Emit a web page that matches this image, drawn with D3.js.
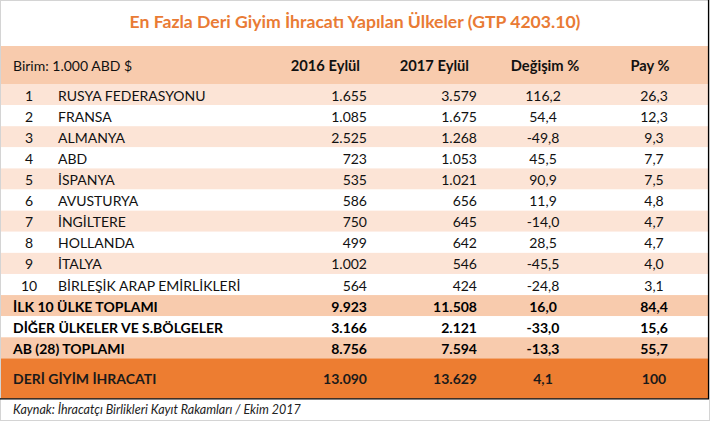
<!DOCTYPE html>
<html><head><meta charset="utf-8">
<script src="https://cdn.jsdelivr.net/npm/d3@7"></script>
<style>body{margin:0;background:#fff}svg{display:block}text{font-family:Lato,"Open Sans",sans-serif}</style>
</head><body>
<script>
const title = "En Fazla Deri Giyim İhracatı Yapılan Ülkeler (GTP 4203.10)";
const unitLabel = "Birim: 1.000 ABD $";
const headers = ["2016 Eylül", "2017 Eylül", "Değişim %", "Pay %"];
const ranks = [1,2,3,4,5,6,7,8,9,10];
const countries = ["RUSYA FEDERASYONU","FRANSA","ALMANYA","ABD","İSPANYA","AVUSTURYA","İNGİLTERE","HOLLANDA","İTALYA","BİRLEŞİK ARAP EMİRLİKLERİ"];
const v2016 = ["1.655","1.085","2.525","723","535","586","750","499","1.002","564"];
const v2017 = ["3.579","1.675","1.268","1.053","1.021","656","645","642","546","424"];
const change = ["116,2","54,4","-49,8","45,5","90,9","11,9","-14,0","28,5","-45,5","-24,8"];
const share = ["26,3","12,3","9,3","7,7","7,5","4,8","4,7","4,7","4,0","3,1"];
const sumLabels = ["İLK 10 ÜLKE TOPLAMI","DİĞER ÜLKELER VE S.BÖLGELER","AB (28) TOPLAMI","DERİ GİYİM İHRACATI"];
const sum2016 = ["9.923","3.166","8.756","13.090"];
const sum2017 = ["11.508","2.121","7.594","13.629"];
const sumChange = ["16,0","-33,0","-13,3","4,1"];
const sumShare = ["84,4","15,6","55,7","100"];
const footnote = "Kaynak: İhracatçı Birlikleri Kayıt Rakamları / Ekim 2017";

const W = 710, H = 421;
const svg = d3.select("body").append("svg").attr("width", W).attr("height", H);

const rows = [];
rows.push({type:"header", h:1.8});
ranks.forEach((r,i)=>rows.push({type:"data", i, h:1}));
sumLabels.forEach((s,i)=>rows.push({type:i===3?"total":"sum", i, h:i===3?1.9:1}));
let acc = 0; rows.forEach(r=>{r.y0=acc; acc+=r.h; r.y1=acc;});
const y = d3.scaleLinear().domain([0, acc]).range([46, 398.5]);

const colors = {header:"#F8CBAD", odd:"#FCE4D6", even:"#FFFFFF", sum:"#F8CBAD", total:"#ED7D31"};
function fill(r){
  if (r.type==="header") return colors.header;
  if (r.type==="data") return r.i%2===0 ? colors.odd : colors.even;
  if (r.type==="sum") return r.i===1 ? colors.even : colors.sum;
  return colors.total;
}
svg.selectAll("rect.row").data(rows).join("rect").attr("class","row")
  .attr("x",1).attr("width",707)
  .attr("y",d=>y(d.y0)).attr("height",d=>y(d.y1)-y(d.y0))
  .attr("fill",fill);

svg.append("rect").attr("x",0.5).attr("y",0.5).attr("width",W-1).attr("height",H-1)
  .attr("fill","none").attr("stroke","#d4d4d4");
svg.append("line").attr("x1",708.5).attr("x2",708.5).attr("y1",0).attr("y2",399)
  .attr("stroke","#000").attr("stroke-width",1.2);
svg.append("line").attr("x1",0).attr("x2",709).attr("y1",398.8).attr("y2",398.8)
  .attr("stroke","#000").attr("stroke-width",1.2);

svg.append("text").attr("x",355).attr("y",28).attr("text-anchor","middle")
  .attr("font-size",17.6).attr("font-weight","bold").attr("fill","#E97B35").text(title);

const mid = r => (y(r.y0)+y(r.y1))/2 + 6;
const hdr = rows[0];
svg.append("text").attr("x",13).attr("y",mid(hdr)).attr("font-size",14).attr("fill","#111").text(unitLabel);
const hx = [{x:360,a:"end"},{x:469,a:"end"},{x:545,a:"middle"},{x:650,a:"middle"}];
headers.forEach((h,k)=>svg.append("text").attr("x",hx[k].x).attr("y",mid(hdr))
  .attr("text-anchor",hx[k].a).attr("font-size",14.7).attr("font-weight","bold").attr("fill","#111").text(h));

const cols = [
  {x:29, a:"middle", get:i=>ranks[i]},
  {x:58, a:"start", get:i=>countries[i]},
  {x:367, a:"end", get:i=>v2016[i]},
  {x:477, a:"end", get:i=>v2017[i]},
  {x:543, a:"middle", get:i=>change[i]},
  {x:654, a:"middle", get:i=>share[i]}
];
const dataRows = rows.filter(r=>r.type==="data");
cols.forEach(c=>{
  svg.selectAll(null).data(dataRows).join("text")
    .attr("x",c.x).attr("y",mid).attr("text-anchor",c.a)
    .attr("font-size",14).attr("fill","#111").text(d=>c.get(d.i));
});
const sumRows = rows.filter(r=>r.type==="sum"||r.type==="total");
const scols = [
  {x:13, a:"start", get:i=>sumLabels[i]},
  {x:367, a:"end", get:i=>sum2016[i]},
  {x:477, a:"end", get:i=>sum2017[i]},
  {x:543, a:"middle", get:i=>sumChange[i]},
  {x:654, a:"middle", get:i=>sumShare[i]}
];
scols.forEach(c=>{
  svg.selectAll(null).data(sumRows).join("text")
    .attr("x",c.x).attr("y",mid).attr("text-anchor",c.a)
    .attr("font-size",14).attr("font-weight","bold").attr("fill",d=>d.type==="total"?"#1a1a1a":"#000").text(d=>c.get(d.i));
});

svg.append("text").attr("x",13).attr("y",414).attr("font-size",12.5).attr("font-style","italic")
  .attr("fill","#222").text(footnote);
</script>
</body></html>
